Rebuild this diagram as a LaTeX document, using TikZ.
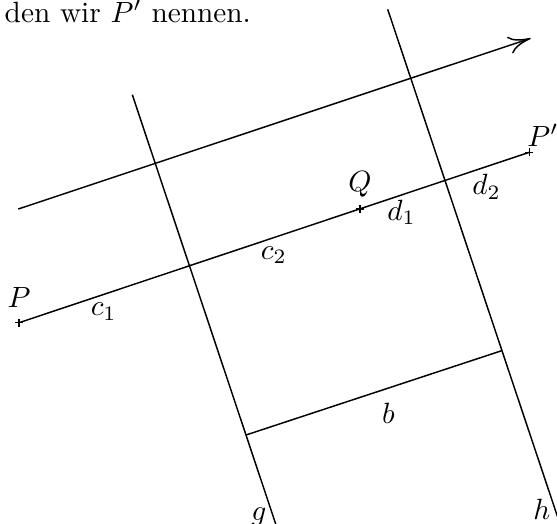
\documentclass[tikz,border=0pt]{standalone}
\usepackage{amsmath,amssymb}
\usepackage{tikz}
\usetikzlibrary{arrows.meta,calc}

\begin{document}
\begin{tikzpicture}[x=0.012cm, y=-0.012cm, line width=0.5pt]
    \tikzset{lbl/.style={inner sep=0pt}}
    \useasboundingbox (0,0) rectangle (557,524);

    \node[lbl, anchor=base west] (satz) at (4,22.5) {den wir $P'$ nennen.};

    % Punkte
    \coordinate (P) at (19,322.7);
    \coordinate (Q) at (360,209);
    \coordinate (Pp) at (529.3,152.3);
    \coordinate (a1) at (18.3,209);
    \coordinate (a2) at (530.7,38.3);
    \coordinate (g1) at (132.3,94.7);
    \coordinate (g2) at (278.4,532);
    \coordinate (h1) at (387.7,9.3);
    \coordinate (h2) at (562,530);
    \coordinate (b1) at (246,435);
    \coordinate (b2) at (501.7,350.7);

    \draw[-{To[length=7.6pt,width=6pt]}] (a1) -- (a2);
    \draw (g1) -- (g2);
    \draw (h1) -- (h2);
    \draw (P) -- (Pp);
    \draw (b1) -- (b2);
    \foreach \p in {P,Q,Pp}
        \draw (\p) +(-4,0) -- +(4,0) (\p) +(0,-4) -- +(0,4);

    \node[lbl] (lP) at (19,297) {$P$};
    \node[lbl] (lQ) at (360,184) {$Q$};
    \node[lbl] (lPp) at (543,135) {$P'$};
    \node[lbl] (lc1) at (103.7,311.7) {$c_1$};
    \node[lbl] (lc2) at (273.8,255) {$c_2$};
    \node[lbl] (ld1) at (401.7,212.3) {$d_1$};
    \node[lbl] (ld2) at (486.7,186.7) {$d_2$};
    \node[lbl] (lb) at (388.3,413.3) {$b$};
    \node[lbl, anchor=base] (lg) at (259,520) {$g$};
    \node[lbl, anchor=base] (lh) at (541.7,519.3) {$h$};
\end{tikzpicture}
\end{document}
